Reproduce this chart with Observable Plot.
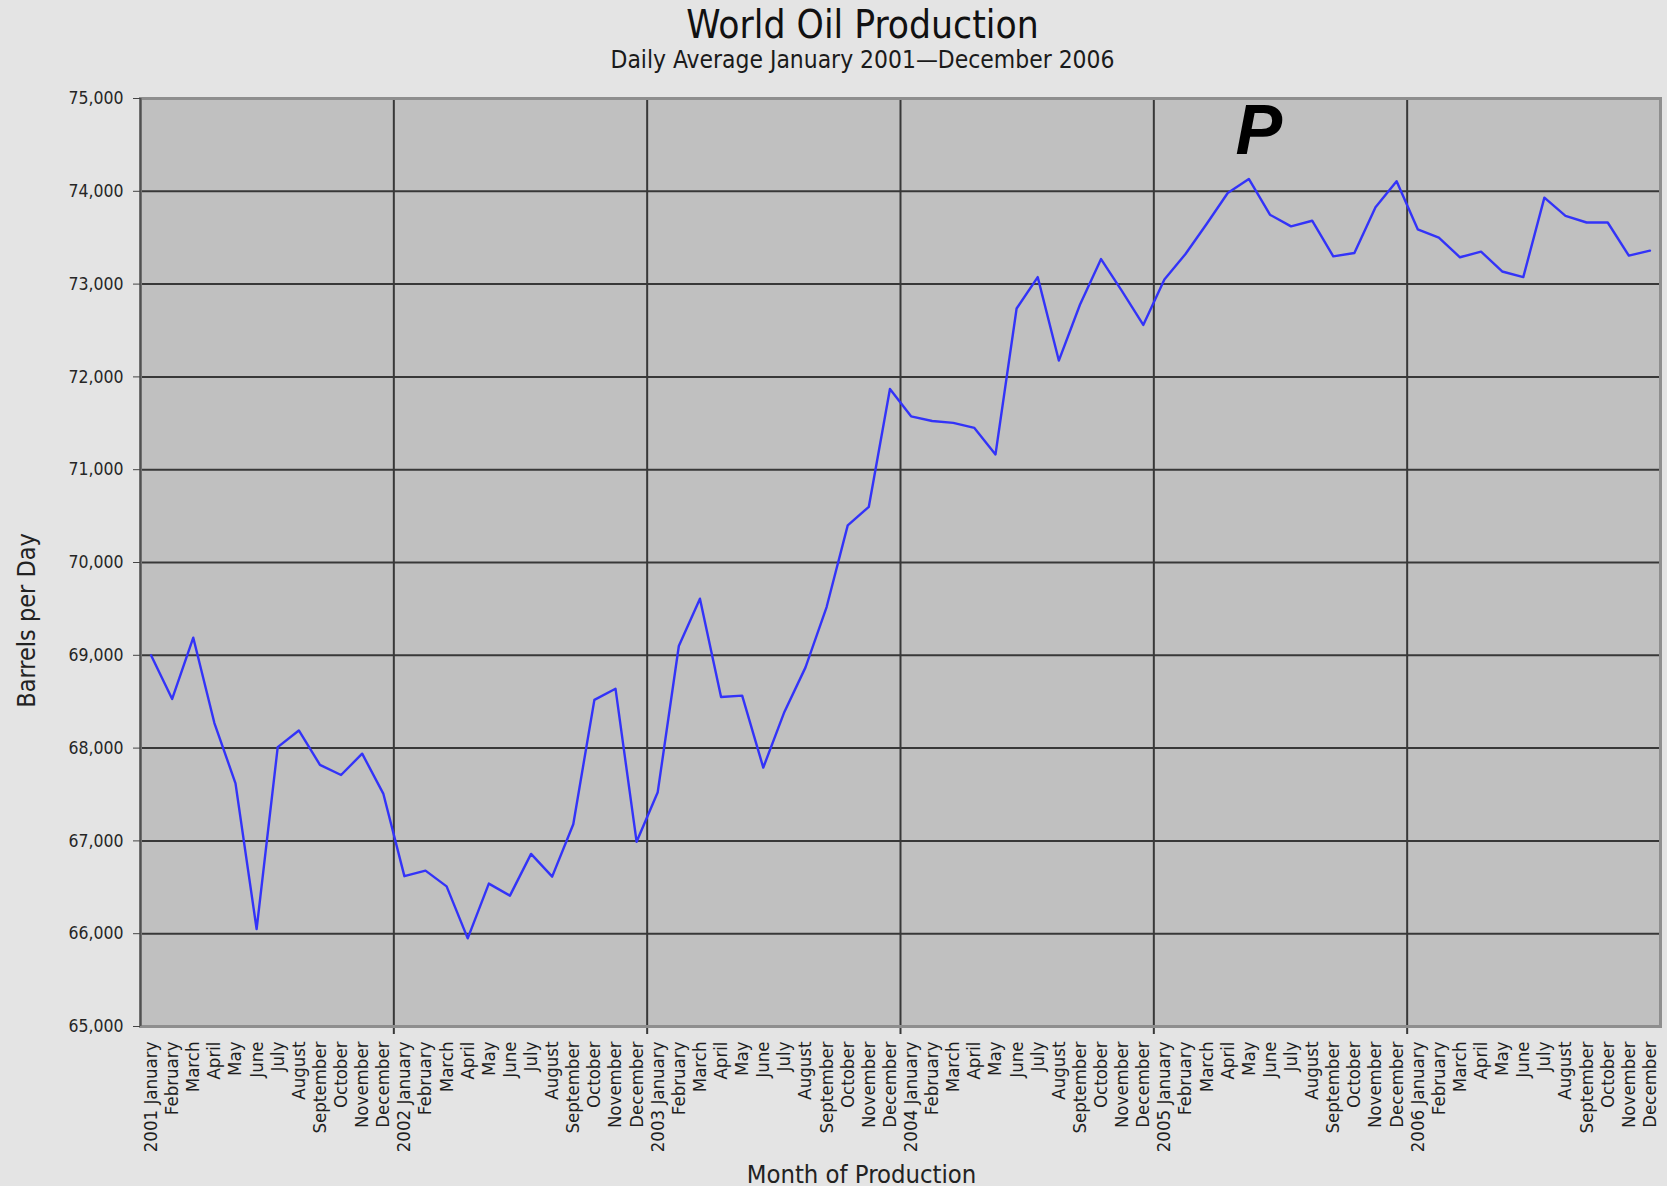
<!DOCTYPE html>
<html>
<head>
<meta charset="utf-8">
<script src="https://cdn.jsdelivr.net/npm/d3@7"></script>
<script src="https://cdn.jsdelivr.net/npm/@observablehq/plot@0.6"></script>
<style>
  html, body { margin: 0; padding: 0; background: #e4e4e4; overflow: hidden; }
  body { width: 1667px; height: 1186px; position: relative;
         font-family: 'DejaVu Sans Condensed', 'DejaVu Sans', sans-serif; font-stretch: condensed; }
  #title { position: absolute; top: 5px; left: 58px; width: 1609px; text-align: center;
           font-size: 38.6px; line-height: 40px; color: #111; }
  #subtitle { position: absolute; top: 47px; left: 58px; width: 1609px; text-align: center;
              font-size: 24.4px; line-height: 26px; color: #1a1a1a; }
  #chart { position: absolute; top: 80px; left: 0; }
</style>
</head>
<body>
<div id="title"></div>
<div id="subtitle"></div>
<div id="chart"></div>
<script>
const titleText = "World Oil Production";
const subtitleText = "Daily Average January 2001\u2014December 2006";
const yLabel = "Barrels per Day";
const xLabel = "Month of Production";

const years = [2001, 2002, 2003, 2004, 2005, 2006];
const monthNames = ["January", "February", "March", "April", "May", "June",
  "July", "August", "September", "October", "November", "December"];

const production2001 = [69000, 68530, 69190, 68270, 67620, 66050, 68010, 68190, 67820, 67710, 67940, 67510];
const production2002 = [66620, 66680, 66510, 65950, 66540, 66410, 66860, 66615, 67180, 68520, 68640, 66990];
const production2003 = [67525, 69100, 69610, 68550, 68565, 67790, 68390, 68870, 69520, 70400, 70600, 71870];
const production2004 = [71575, 71525, 71505, 71450, 71165, 72737, 73075, 72176, 72777, 73270, 72921, 72560];
const production2005 = [73050, 73324, 73647, 73982, 74133, 73748, 73622, 73683, 73299, 73335, 73827, 74108];
const production2006 = [73590, 73500, 73289, 73350, 73136, 73075, 73932, 73736, 73664, 73664, 73307, 73361];

const yTicks = [65000, 66000, 67000, 68000, 69000, 70000, 71000, 72000, 73000, 74000, 75000];

// annotation "P" (peak) near May 2005
const peakLabel = "P";
const peakYear = 2005;
const peakMonth = "May";
const peakValue = 74640;

// ---- build tables ----
const series = [production2001, production2002, production2003, production2004, production2005, production2006];
const data = [];
years.forEach((yr, k) => {
  series[k].forEach((v, m) => data.push({i: k * 12 + m, v, label: m === 0 ? `${yr} ${monthNames[m]}` : monthNames[m]}));
});
const labels = data.map(d => d.label);
const yearBoundaries = years.slice(1).map((yr, k) => (k + 1) * monthNames.length - 0.5);
const peakIndex = years.indexOf(peakYear) * 12 + monthNames.indexOf(peakMonth);

document.getElementById("title").textContent = titleText;
document.getElementById("subtitle").textContent = subtitleText;

const FONT = "'DejaVu Sans Condensed', 'DejaVu Sans', sans-serif";

const chart = Plot.plot({
  width: 1667,
  height: 1106,
  marginLeft: 140,
  marginRight: 7,
  marginTop: 18,
  marginBottom: 160,
  style: {background: "transparent", fontFamily: FONT, fontSize: "17px", color: "#2c2c2c", overflow: "visible"},
  x: {type: "linear", domain: [-0.5, data.length - 0.5]},
  y: {domain: [yTicks[0], yTicks[yTicks.length - 1]]},
  marks: [
    Plot.frame({fill: "#c0c0c0"}),
    Plot.gridY(yTicks.slice(1, -1), {stroke: "#383838", strokeOpacity: 1, strokeWidth: 2}),
    Plot.ruleX(yearBoundaries, {stroke: "#383838", strokeWidth: 2, insetBottom: -8}),
    Plot.frame({stroke: "#8e8e8e", strokeWidth: 3}),
    Plot.ruleX([-0.5], {stroke: "#505050", strokeWidth: 2}),
    Plot.axisY(yTicks, {tickSize: 7, tickPadding: 10, tickFormat: d3.format(","), label: null,
      fontSize: 17.5, fill: "#262626", stroke: "#444"}),
    Plot.axisX(data.map(d => d.i), {tickSize: 0, tickPadding: 15, tickRotate: -90,
      tickFormat: i => labels[i], label: null, fontSize: 18.5, fill: "#1e1e1e"}),
    Plot.line(data, {x: "i", y: "v", stroke: "#3333f8", strokeWidth: 2.4}),
    Plot.text([{i: peakIndex, v: peakValue, t: peakLabel}], {x: "i", y: "v", text: "t",
      fontSize: 70, fontWeight: "bold", fontStyle: "italic", fontFamily: "'Liberation Sans', Arial, sans-serif",
      fill: "#000", dx: 10}),
    Plot.text([yLabel], {frameAnchor: "left", textAnchor: "middle", rotate: -90, dx: -113.5, dy: 58,
      fontSize: 25, fill: "#222"}),
    Plot.text([xLabel], {frameAnchor: "bottom", textAnchor: "middle", dx: -39, dy: 156, fontSize: 25.4, fill: "#222"})
  ]
});
document.getElementById("chart").appendChild(chart);
</script>
</body>
</html>
